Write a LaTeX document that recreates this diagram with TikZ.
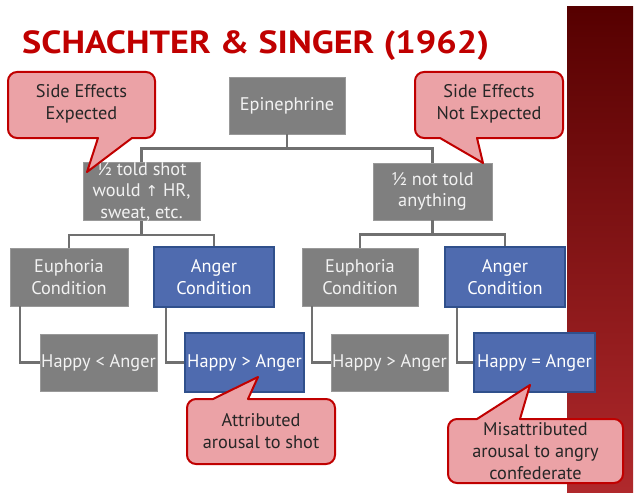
\documentclass[tikz,border=0pt]{standalone}
\usepackage{fontspec}
\usepackage{graphicx}
\setmainfont{PT Sans}
\newfontfamily\symfont{DejaVu Sans}
\usetikzlibrary{calc}
\definecolor{boxgray}{HTML}{7F7F7F}
\definecolor{boxgrayedge}{HTML}{999999}
\definecolor{boxblue}{HTML}{4F6BAF}
\definecolor{boxblueedge}{HTML}{30508C}
\definecolor{linkgray}{HTML}{707070}
\definecolor{calloutfill}{HTML}{EBA2A6}
\definecolor{calloutedge}{HTML}{C00000}
\definecolor{titlered}{HTML}{C00000}
\definecolor{bandtop}{HTML}{560000}
\definecolor{bandbottom}{HTML}{B0292C}
\tikzset{
  graybox/.style={draw=boxgrayedge, line width=0.8pt, fill=boxgray, text=white!95!black,
    inner sep=0pt, align=center, font=\fontsize{18.3}{21.5}\selectfont},
  bluebox/.style={draw=boxblueedge, line width=1.6pt, fill=boxblue, text=white,
    inner sep=0pt, align=center, font=\fontsize{18.3}{21.5}\selectfont},
  link/.style={draw=linkgray, line width=2.2pt},
  callout/.style={draw=calloutedge, line width=2pt, fill=calloutfill, line join=round},
  callouttext/.style={text=black!85, align=center, inner sep=0pt, font=\fontsize{18.3}{22}\selectfont},
}
\begin{document}
\begin{tikzpicture}[x=1pt,y=-1pt]
\useasboundingbox (0,0) rectangle (635,495);
\fill[white] (0,0) rectangle (635,495);

% red side band
\shade[top color=bandtop, bottom color=bandbottom] (567,7) rectangle (633,492);

% title
\node[anchor=base west, inner sep=0pt, text=titlered, font=\fontsize{32}{36}\bfseries\selectfont]
  (title) at (22,54) {\scalebox{1.13}[1]{SCHACHTER \& SINGER (1962)}};

% boxes
\node[graybox, minimum width=116pt, minimum height=57pt] (epi) at (287,105.5) {Epinephrine};
\node[graybox, minimum width=117pt, minimum height=57pt] (told) at (141.5,191.5)
  {½ told shot\\would {\symfont\fontsize{15}{21}\selectfont ↑} HR,\\sweat, etc.};
\node[graybox, minimum width=119pt, minimum height=57pt] (nottold) at (432.5,191.5)
  {½ not told\\anything};

\node[graybox, minimum width=118pt, minimum height=58pt] (eu1) at (69,277) {Euphoria\\Condition};
\node[bluebox, minimum width=120pt, minimum height=60pt] (an1) at (214,277) {Anger\\Condition};
\node[graybox, minimum width=116pt, minimum height=58pt] (eu2) at (360,277) {Euphoria\\Condition};
\node[bluebox, minimum width=120pt, minimum height=60pt] (an2) at (505,277) {Anger\\Condition};

\node[graybox, minimum width=117pt, minimum height=57pt] (h1) at (98.5,362.5) {Happy < Anger};
\node[bluebox, minimum width=119pt, minimum height=59pt] (h2) at (244.5,362.5) {Happy > Anger};
\node[graybox, minimum width=117pt, minimum height=57pt] (h3) at (389.5,362.5) {Happy > Anger};
\node[bluebox, minimum width=121pt, minimum height=59pt] (h4) at (534.5,362.5) {Happy = Anger};

% tree connectors
\coordinate (j0) at ($(epi.south)+(0,14)$);
\draw[link] (epi.south) -- (j0);
\draw[link] (told.north) |- (j0) -| (nottold.north);

\coordinate (j1) at ($(told.south)+(0,14)$);
\draw[link] (told.south) -- (j1);
\draw[link] (eu1.north) |- (j1) -| (an1.north);

\coordinate (j2) at ($(nottold.south)+(0,14)$);
\draw[link] (nottold.south) -- (j2);
\draw[link] (eu2.north) |- (j2) -| (an2.north);

\draw[link] ($(eu1.south west)+(10,0)$) |- (h1.west);
\draw[link] ($(an1.south west)+(13,0)$) |- (h2.west);
\draw[link] ($(eu2.south west)+(10,0)$) |- (h3.west);
\draw[link] ($(an2.south west)+(13,0)$) |- (h4.west);

% callouts
\draw[callout] (98,138) [rounded corners=9pt] -- (8,138) -- (8,72) -- (155,72) -- (155,138)
  [sharp corners] -- (132,138) -- (87,172) -- cycle;
\node[callouttext] (c1) at (81.5,104) {Side Effects\\Expected};

\draw[callout] (440,138) [rounded corners=9pt] -- (415,138) -- (415,72) -- (563,72) -- (563,138)
  [sharp corners] -- (477,138) -- (483,163) -- cycle;
\node[callouttext] (c2) at (489,104) {Side Effects\\Not Expected};

\draw[callout] (213,399) [rounded corners=9pt] -- (187,399) -- (187,464) -- (335,464) -- (335,399)
  [sharp corners] -- (248,399) -- (258,377) -- cycle;
\node[callouttext] (c3) at (261,431.5) {Attributed\\arousal to shot};

\draw[callout] (477,419) [rounded corners=9pt] -- (448,419) -- (448,483) -- (623,483) -- (623,419)
  [sharp corners] -- (520,419) -- (530,385) -- cycle;
\node[callouttext] (c4) at (535.5,451) {Misattributed\\arousal to angry\\confederate};
\end{tikzpicture}
\end{document}
